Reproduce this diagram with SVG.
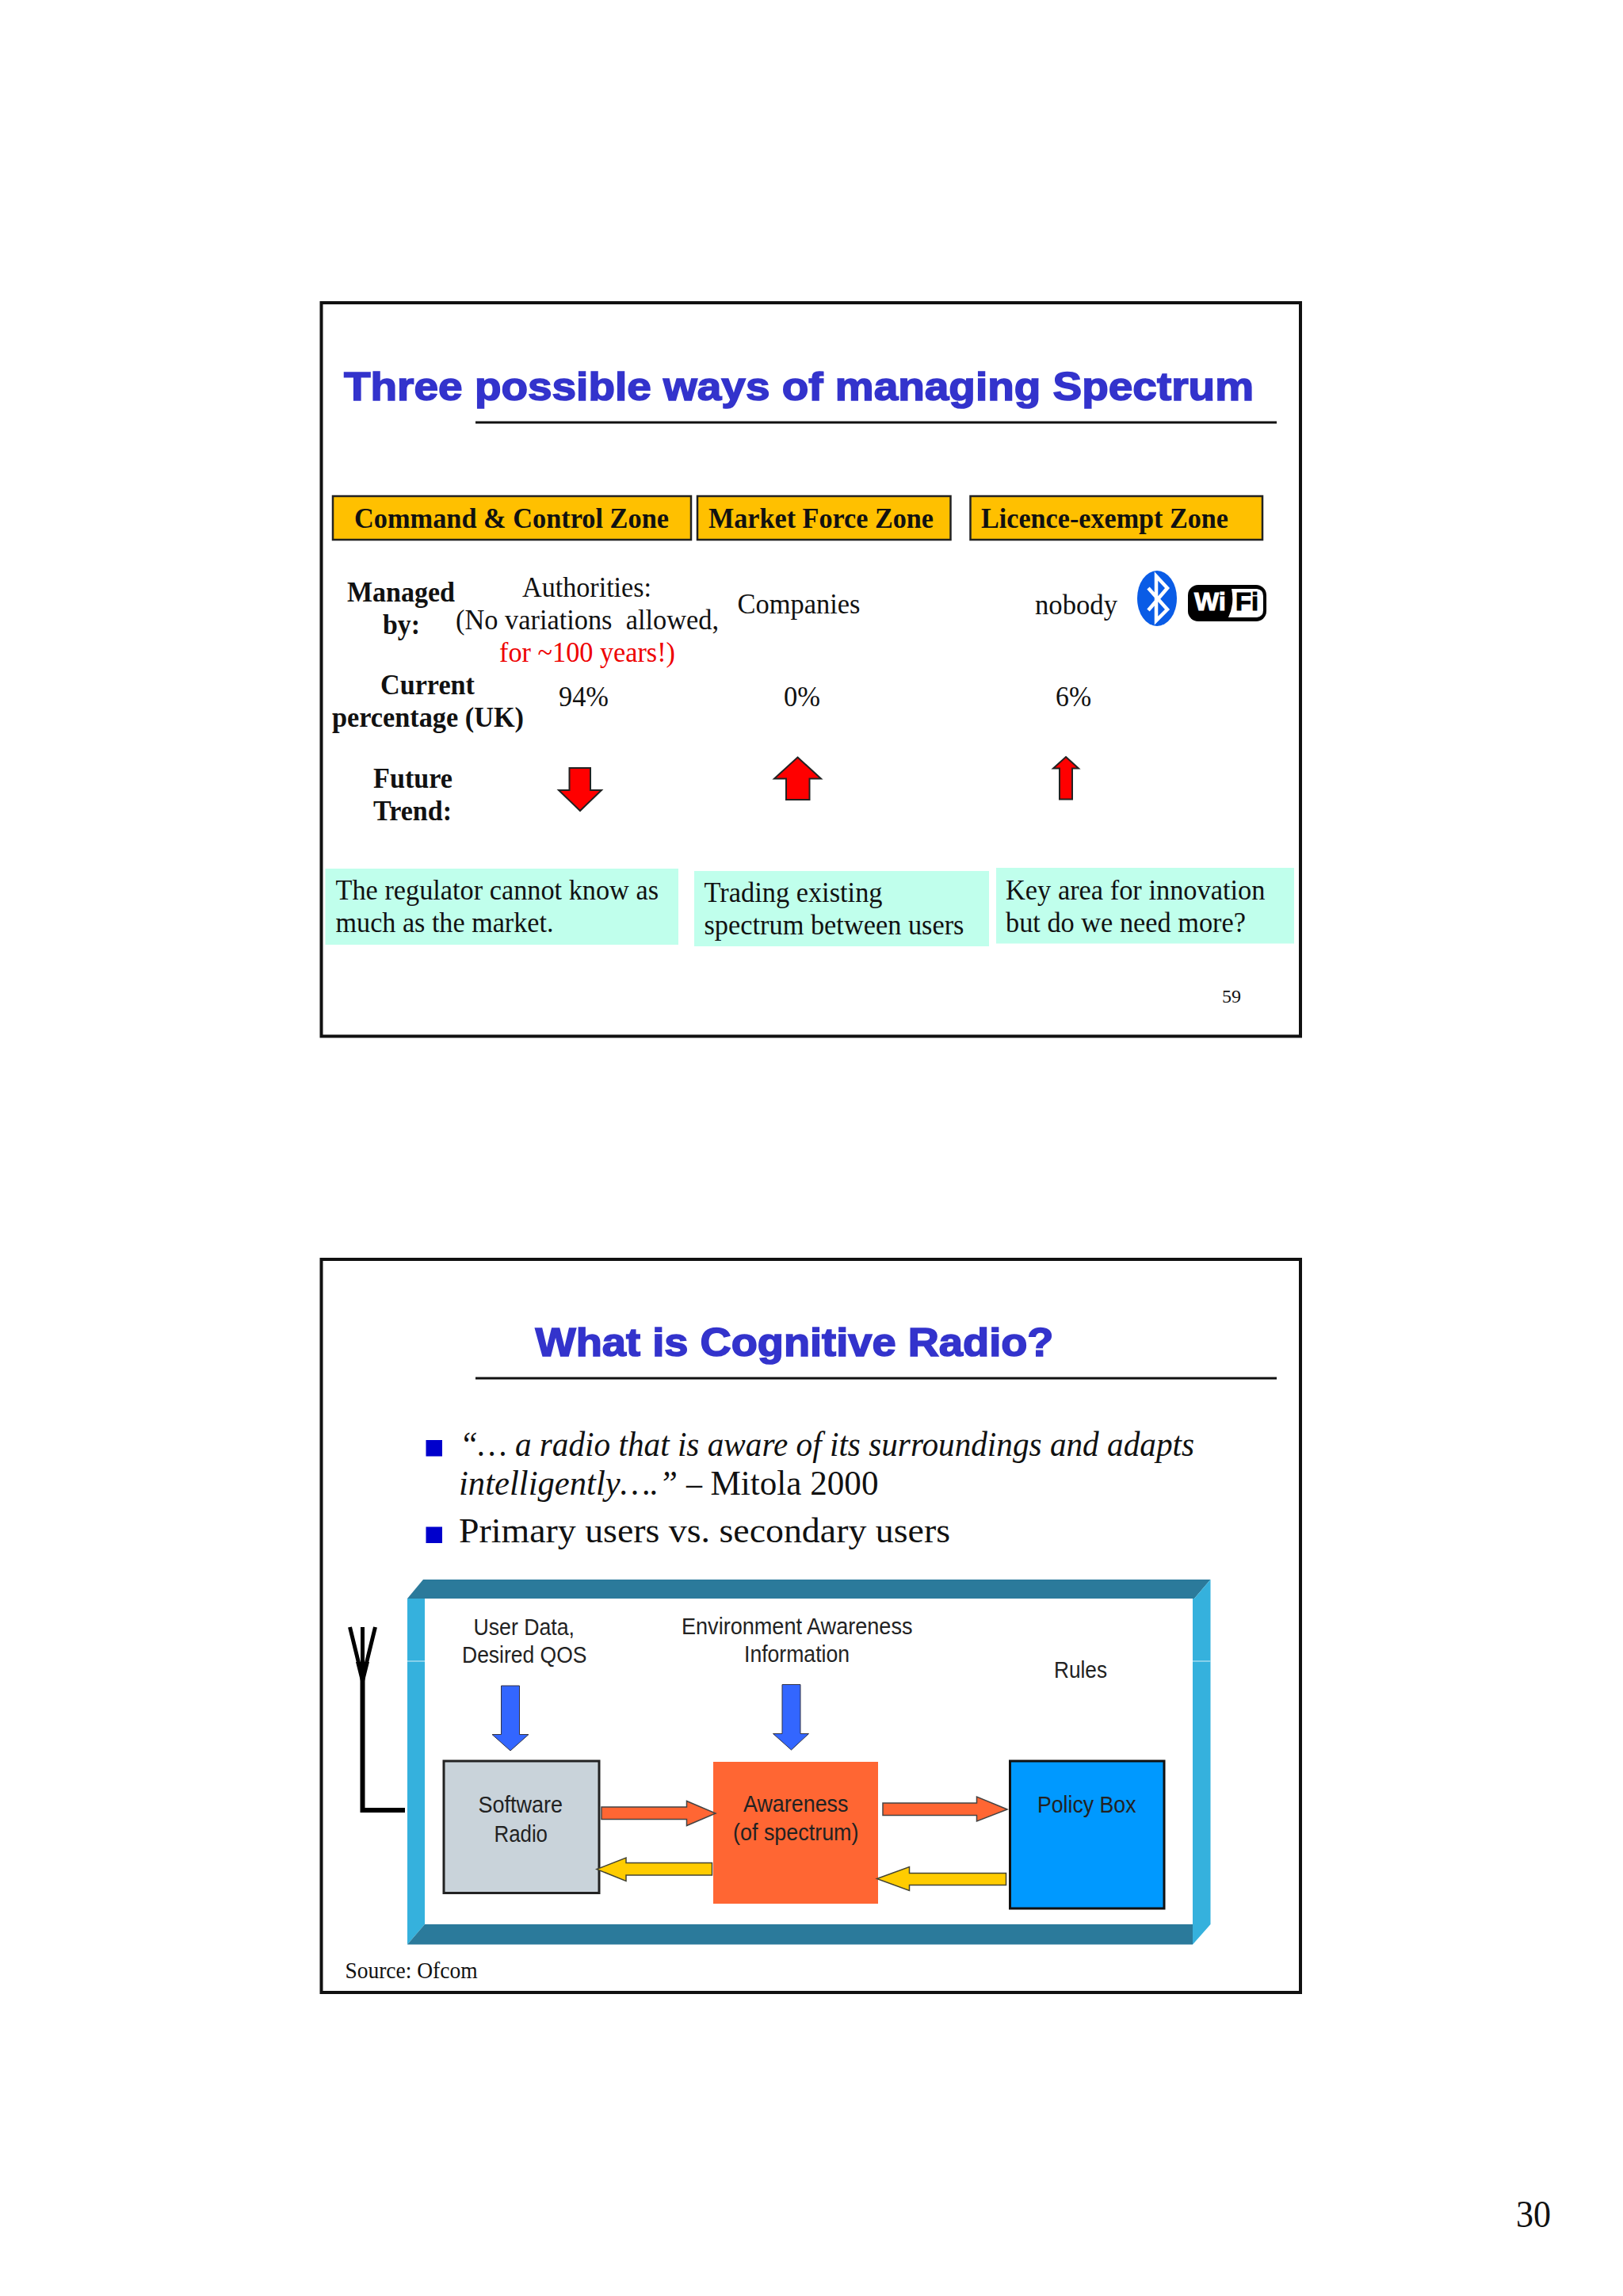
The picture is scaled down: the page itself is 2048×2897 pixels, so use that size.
<svg xmlns="http://www.w3.org/2000/svg" width="2048" height="2897" viewBox="0 0 2048 2897">
<style>
text{font-family:"Liberation Serif","Times New Roman",serif;fill:#111}
.title{font-family:"Liberation Sans",Arial,sans-serif;font-weight:700;font-size:50px;fill:#3333cc;stroke:#3333cc;stroke-width:1.6}
.frame{fill:#fff;stroke:#111;stroke-width:4}
.rule{stroke:#111;stroke-width:3;fill:none}
.zone{fill:#ffc000;stroke:#222;stroke-width:2.5}
.zt{font-weight:700;font-size:35px}
.b{font-weight:700;font-size:35px}
.r{font-size:35px}
.note{fill:#c0ffec}
.red{fill:#ff0000;stroke:#222;stroke-width:2}
.bullet{fill:#0000cc}
.body{font-size:45px}
.a{font-family:"Liberation Sans",Arial,sans-serif;font-size:29px;fill:#222}
.dark{fill:#2b7a9b}
.light{fill:#35b1dd}
.blue{fill:#3366ff;stroke:#334;stroke-width:1}
.org{fill:#ff6633;stroke:#444;stroke-width:1.5}
.yel{fill:#ffcc00;stroke:#443;stroke-width:1.5}
</style>

<g id="slide-1">
<rect class="frame" x="405.5" y="382" width="1235.5" height="925.5"/>
<text class="title" x="434" y="505" textLength="1148" lengthAdjust="spacingAndGlyphs">Three possible ways of managing Spectrum</text>
<line class="rule" x1="600" y1="533" x2="1611" y2="533"/>
</g>

<g id="zone-command"><rect class="zone" x="420" y="626" width="452" height="55"/><text class="zt" x="447" y="665.5" textLength="397" lengthAdjust="spacingAndGlyphs">Command &amp; Control Zone</text></g>
<g id="zone-market"><rect class="zone" x="880" y="626" width="319.5" height="55"/><text class="zt" x="894" y="665.5" textLength="284" lengthAdjust="spacingAndGlyphs">Market Force Zone</text></g>
<g id="zone-licence"><rect class="zone" x="1224.5" y="626" width="368.5" height="55"/><text class="zt" x="1238" y="665.5" textLength="312" lengthAdjust="spacingAndGlyphs">Licence-exempt Zone</text></g>

<g id="row-managed">
<text class="b" x="438" y="759" textLength="136" lengthAdjust="spacingAndGlyphs">Managed</text>
<text class="b" x="483" y="800" textLength="47" lengthAdjust="spacingAndGlyphs">by:</text>
<text class="r" x="659" y="753" textLength="163" lengthAdjust="spacingAndGlyphs">Authorities:</text>
<text class="r" x="575" y="794" textLength="332" lengthAdjust="spacingAndGlyphs" xml:space="preserve">(No variations  allowed,</text>
<text class="r" x="630" y="835" textLength="222" lengthAdjust="spacingAndGlyphs" style="fill:#ee0000">for ~100 years!)</text>
<text class="r" x="930.5" y="774" textLength="155" lengthAdjust="spacingAndGlyphs">Companies</text>
<text class="r" x="1306" y="774.5" textLength="104" lengthAdjust="spacingAndGlyphs">nobody</text>
</g>

<g id="logo-bluetooth">
<ellipse cx="1460" cy="755" rx="25" ry="35" fill="#0a5ce6"/>
<polyline points="1449,742 1473,769 1459,783 1459,727 1473,742 1449,770" fill="none" stroke="#fff" stroke-width="4.5"/>
</g>
<g id="logo-wifi">
<rect x="1499" y="738" width="99" height="46" rx="13" fill="#000"/>
<path d="M1554 743H1586Q1594 744 1594 752V770Q1594 778 1586 779H1550Q1558 762 1554 743Z" fill="#fff"/>
<text x="1507" y="770" textLength="40" lengthAdjust="spacingAndGlyphs" style="font-family:'Liberation Sans',Arial,sans-serif;font-weight:700;font-size:31px;fill:#fff;stroke:#fff;stroke-width:1">Wi</text>
<text x="1559" y="770" textLength="29" lengthAdjust="spacingAndGlyphs" style="font-family:'Liberation Sans',Arial,sans-serif;font-weight:700;font-size:31px;fill:#000;stroke:#000;stroke-width:1">Fi</text>
</g>

<g id="row-current">
<text class="b" x="480" y="876" textLength="119" lengthAdjust="spacingAndGlyphs">Current</text>
<text class="b" x="419" y="917" textLength="242" lengthAdjust="spacingAndGlyphs">percentage (UK)</text>
<text class="r" x="705" y="891" textLength="63" lengthAdjust="spacingAndGlyphs">94%</text>
<text class="r" x="989" y="891" textLength="46" lengthAdjust="spacingAndGlyphs">0%</text>
<text class="r" x="1332" y="891" textLength="45" lengthAdjust="spacingAndGlyphs">6%</text>
</g>

<g id="row-trend">
<text class="b" x="471" y="994" textLength="100" lengthAdjust="spacingAndGlyphs">Future</text>
<text class="b" x="471" y="1035" textLength="99" lengthAdjust="spacingAndGlyphs">Trend:</text>
<polygon class="red" points="718.5,969 745,969 745,997 759,997 732,1023 705,997 718.5,997"/>
<polygon class="red" points="1006.5,955.5 1036,982.5 1021.5,982.5 1021.5,1009 992,1009 992,982.5 977,982.5"/>
<polygon class="red" points="1345,955 1361,969.5 1353,969.5 1353,1008.5 1337,1008.5 1337,969.5 1329,969.5"/>
</g>

<g id="note-regulator"><rect class="note" x="410.5" y="1096" width="445.5" height="96"/>
<text class="r" x="423.5" y="1135" textLength="407.5" lengthAdjust="spacingAndGlyphs">The regulator cannot know as</text>
<text class="r" x="423.5" y="1176" textLength="275" lengthAdjust="spacingAndGlyphs">much as the market.</text></g>
<g id="note-trading"><rect class="note" x="876" y="1099" width="372" height="95"/>
<text class="r" x="888.5" y="1137.5" textLength="225" lengthAdjust="spacingAndGlyphs">Trading existing</text>
<text class="r" x="888.5" y="1178.5" textLength="328" lengthAdjust="spacingAndGlyphs">spectrum between users</text></g>
<g id="note-key"><rect class="note" x="1257" y="1095" width="376" height="95.5"/>
<text class="r" x="1269" y="1134.5" textLength="327.5" lengthAdjust="spacingAndGlyphs">Key area for innovation</text>
<text class="r" x="1269" y="1175.5" textLength="303" lengthAdjust="spacingAndGlyphs">but do we need more?</text></g>
<text id="page-59" x="1542" y="1265" style="font-size:24px" textLength="24" lengthAdjust="spacingAndGlyphs">59</text>

<g id="slide-2">
<rect class="frame" x="405.5" y="1589" width="1235.5" height="925"/>
<text class="title" x="675.5" y="1711" textLength="654" lengthAdjust="spacingAndGlyphs">What is Cognitive Radio?</text>
<line class="rule" x1="600" y1="1739" x2="1611" y2="1739"/>
<rect class="bullet" x="537.5" y="1817" width="20.5" height="20.5"/>
<rect class="bullet" x="537.5" y="1926.5" width="20.5" height="20.5"/>
<text class="body" x="580" y="1836.5" font-style="italic" textLength="927" lengthAdjust="spacingAndGlyphs">“… a radio that is aware of its surroundings and adapts</text>
<text class="body" x="579" y="1886" font-style="italic" textLength="276" lengthAdjust="spacingAndGlyphs">intelligently….”</text>
<text class="body" x="866" y="1886" textLength="20" lengthAdjust="spacingAndGlyphs">–</text>
<text class="body" x="896.5" y="1886" textLength="212" lengthAdjust="spacingAndGlyphs">Mitola 2000</text>
<text class="body" x="579" y="1945.5" textLength="620" lengthAdjust="spacingAndGlyphs">Primary users vs. secondary users</text>
<text x="435.5" y="2495.5" style="font-size:29px" textLength="167" lengthAdjust="spacingAndGlyphs">Source: Ofcom</text>
</g>

<g id="radio-frame">
<polygon class="dark" points="514,2017 534,1993 1527.5,1993 1507,2017"/>
<polygon class="light" points="1505,2017 1507,2017 1527.5,1993 1527.5,2428 1505,2453.5"/>
<polygon class="light" points="514,2017 536,2017 536,2428 514,2453.5"/>
<polygon class="dark" points="514,2453.5 536,2428 1505,2428 1505,2453.5"/>
<line x1="514" y1="2096" x2="536" y2="2096" stroke="#d8f0f8" stroke-width="1"/>
<line x1="1505" y1="2096" x2="1527.5" y2="2096" stroke="#d8f0f8" stroke-width="1"/>
</g>

<g id="antenna">
<path d="M457.5 2115V2284H511" fill="none" stroke="#000" stroke-width="6"/>
<path d="M457.5 2053V2100M441.5 2053L453 2100M473.5 2053L462 2100" fill="none" stroke="#000" stroke-width="5"/>
<polygon points="449,2097 466,2097 459,2125 456,2125" fill="#000"/>
</g>

<g id="label-user"><text class="a" x="597.5" y="2062.5" textLength="127.5" lengthAdjust="spacingAndGlyphs">User Data,</text><text class="a" x="583" y="2098" textLength="157.5" lengthAdjust="spacingAndGlyphs">Desired QOS</text></g>
<g id="label-env"><text class="a" x="860" y="2062" textLength="291.5" lengthAdjust="spacingAndGlyphs">Environment Awareness</text><text class="a" x="939" y="2096.5" textLength="133" lengthAdjust="spacingAndGlyphs">Information</text></g>
<g id="label-rules"><text class="a" x="1330" y="2116.5" textLength="67" lengthAdjust="spacingAndGlyphs">Rules</text></g>

<g id="node-software"><rect x="560" y="2222" width="196" height="166.5" fill="#c9d3da" stroke="#222" stroke-width="3"/>
<text class="a" x="603.5" y="2287" textLength="106.5" lengthAdjust="spacingAndGlyphs">Software</text><text class="a" x="623.5" y="2324" textLength="67.5" lengthAdjust="spacingAndGlyphs">Radio</text></g>
<g id="node-awareness"><rect x="900" y="2223" width="208" height="179" fill="#ff6633"/>
<text class="a" x="938" y="2285.5" textLength="132.5" lengthAdjust="spacingAndGlyphs">Awareness</text><text class="a" x="925" y="2322" textLength="158.5" lengthAdjust="spacingAndGlyphs">(of spectrum)</text></g>
<g id="node-policy"><rect x="1274.5" y="2222" width="194.5" height="186" fill="#0099ff" stroke="#111" stroke-width="3"/>
<text class="a" x="1309" y="2287" textLength="124.5" lengthAdjust="spacingAndGlyphs">Policy Box</text></g>

<g id="connectors">
<polygon class="blue" points="632.5,2127 655.5,2127 655.5,2188.5 667,2188.5 644,2209 621,2188.5 632.5,2188.5"/>
<polygon class="blue" points="987,2125.5 1010,2125.5 1010,2187.5 1020.5,2187.5 998.5,2208 975.5,2187.5 987,2187.5"/>
<polygon class="org" points="759,2280 866.5,2280 866.5,2272.5 903,2288 866.5,2303.5 866.5,2295.5 759,2295.5"/>
<polygon class="yel" points="753,2358.5 790,2344 790,2350.5 898.5,2350.5 898.5,2366 790,2366 790,2373.5"/>
<polygon class="org" points="1114,2275 1232.5,2275 1232.5,2267 1271,2283 1232.5,2298 1232.5,2290.5 1114,2290.5"/>
<polygon class="yel" points="1106.5,2370.5 1147.5,2355.5 1147.5,2363.5 1269.5,2363.5 1269.5,2378.5 1147.5,2378.5 1147.5,2385.5"/>
</g>

<text id="page-30" x="1913" y="2810" style="font-size:49px" textLength="44" lengthAdjust="spacingAndGlyphs">30</text>
</svg>
